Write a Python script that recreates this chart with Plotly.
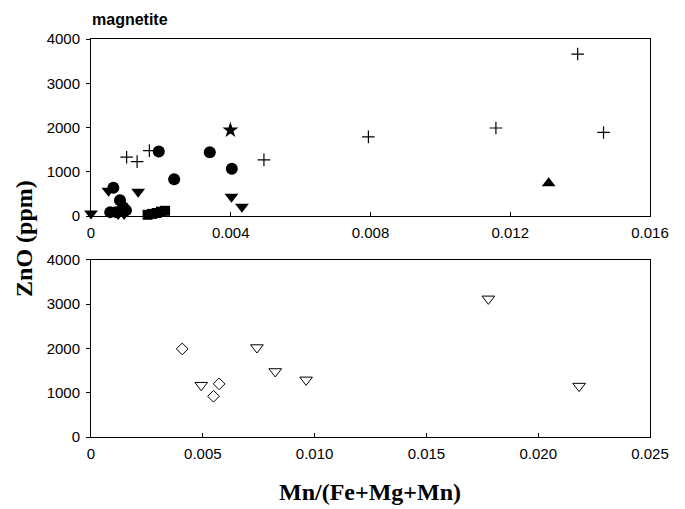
import plotly.graph_objects as go

# ---- Top panel (magnetite) data ----
plus_x = [0.00102, 0.00132, 0.00167, 0.00495, 0.00794, 0.01159, 0.01393, 0.01467]
plus_y = [1330, 1230, 1480, 1270, 1790, 1990, 3660, 1890]

circle_x = [0.00194, 0.00340, 0.00403, 0.00238, 0.00064, 0.00083, 0.00092, 0.00055, 0.00072, 0.00100]
circle_y = [1460, 1440, 1070, 830, 640, 360, 200, 90, 90, 130]

tridown_x = [0.00000, 0.00050, 0.00135, 0.00402, 0.00432, 0.00078, 0.00095]
tridown_y = [60, 570, 550, 440, 210, 50, 50]

square_x = [0.00162, 0.00175, 0.00188, 0.00200, 0.00212]
square_y = [30, 50, 70, 100, 120]

star_x = [0.00399]
star_y = [1940]

triup_x = [0.01310]
triup_y = [740]

# ---- Bottom panel data ----
diamond_x = [0.00408, 0.00573, 0.00548]
diamond_y = [1990, 1200, 920]

otri_x = [0.00493, 0.00742, 0.00824, 0.00962, 0.01777, 0.02183]
otri_y = [1170, 2020, 1480, 1290, 3120, 1150]

top_xticks = [0, 0.004, 0.008, 0.012, 0.016]
top_xlabels = ["0", "0.004", "0.008", "0.012", "0.016"]
bot_xticks = [0, 0.005, 0.010, 0.015, 0.020, 0.025]
bot_xlabels = ["0", "0.005", "0.010", "0.015", "0.020", "0.025"]
yticks = [0, 1000, 2000, 3000, 4000]

fig = go.Figure()

def add(x, y, symbol, size, xa, ya, lw=0, color="black"):
    fig.add_trace(go.Scatter(
        x=x, y=y, mode="markers", xaxis=xa, yaxis=ya, showlegend=False,
        marker=dict(symbol=symbol, size=size, color=color,
                    line=dict(color="black", width=lw)),
        cliponaxis=False))

add(plus_x, plus_y, "cross-thin", 9, "x", "y", lw=1.2)
add(circle_x, circle_y, "circle", 12, "x", "y")
add(tridown_x, tridown_y, "triangle-down", 12, "x", "y")
add(square_x, square_y, "square", 10, "x", "y")
add(star_x, star_y, "star", 12, "x", "y")
add(triup_x, triup_y, "triangle-up", 12, "x", "y")

add(diamond_x, diamond_y, "diamond-open", 9, "x2", "y2", lw=1)
add(otri_x, otri_y, "triangle-down-open", 11, "x2", "y2", lw=1)

tickfont = dict(family="Liberation Sans, Arial", size=15, color="black")
axis_common = dict(showline=True, linecolor="black", linewidth=1, mirror=True,
                   showgrid=False, zeroline=False, tickfont=tickfont,
                   ticklen=4, tickcolor="black")

fig.update_layout(
    width=685, height=509,
    margin=dict(l=91, r=35, t=39, b=72),
    plot_bgcolor="white", paper_bgcolor="white",
    xaxis=dict(domain=[0, 1], range=[0, 0.016], tickvals=top_xticks,
               ticktext=top_xlabels, anchor="y", ticks="inside",
               ticklabelstandoff=3, **axis_common),
    yaxis=dict(domain=[0.555, 1], range=[0, 4000], tickvals=yticks,
               anchor="x", ticks="outside", ticklabelstandoff=3, **axis_common),
    xaxis2=dict(domain=[0, 1], range=[0, 0.025], tickvals=bot_xticks,
                ticktext=bot_xlabels, anchor="y2", ticks="inside",
                ticklabelstandoff=3, **axis_common),
    yaxis2=dict(domain=[0, 0.445], range=[0, 4000], tickvals=yticks,
                anchor="x2", ticks="outside", ticklabelstandoff=3, **axis_common),
    annotations=[
        dict(text="<b>magnetite</b>", xref="paper", yref="paper", x=-0.002, y=1.05,
             xanchor="left", yanchor="middle", showarrow=False,
             font=dict(family="Liberation Sans, Arial", size=16, color="black")),
        dict(text="<b>ZnO (ppm)</b>", xref="paper", yref="paper", x=-0.12, y=0.5,
             xanchor="center", yanchor="middle", showarrow=False, textangle=-90,
             font=dict(family="Liberation Serif, Times New Roman", size=24, color="black")),
        dict(text="<b>Mn/(Fe+Mg+Mn)</b>", xref="paper", yref="paper", x=0.499, y=-0.138,
             xanchor="center", yanchor="middle", showarrow=False,
             font=dict(family="Liberation Serif, Times New Roman", size=24, color="black")),
    ],
)

fig.write_html("out.html")
